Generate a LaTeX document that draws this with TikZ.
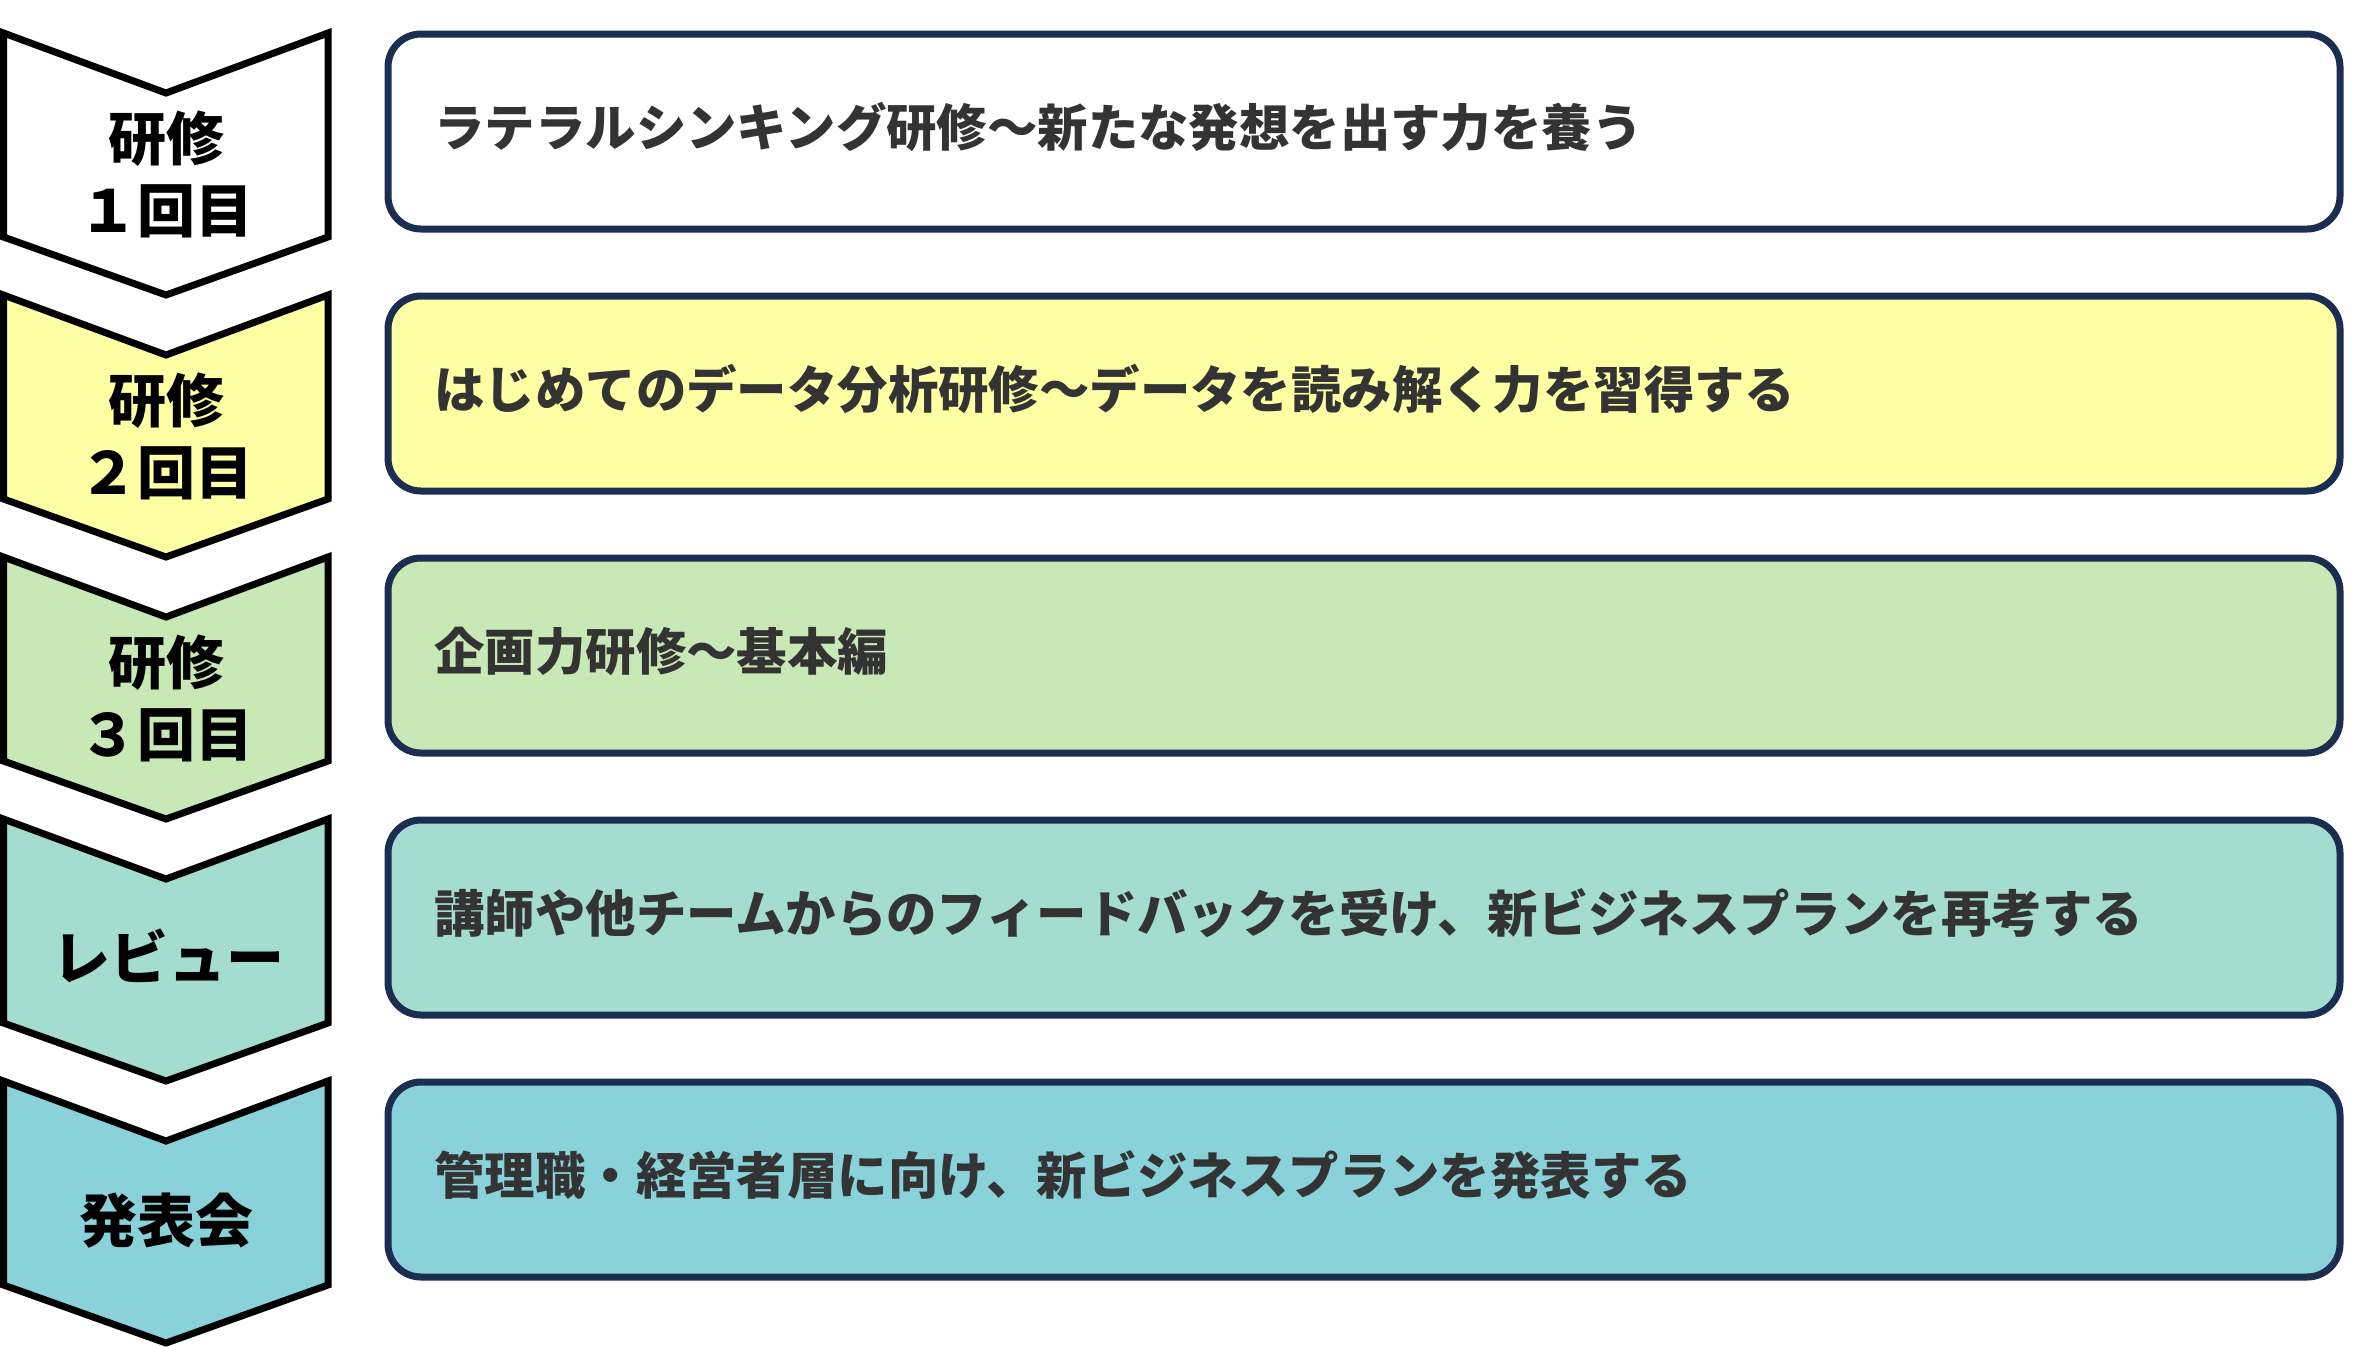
\documentclass[tikz,border=0pt]{standalone}
\usepackage{fontspec}
\newfontfamily\jp{Noto Sans CJK JP}
\definecolor{navy}{HTML}{1B2E52}
\definecolor{txt}{HTML}{333333}
\definecolor{cyel}{HTML}{FFFFA3}
\definecolor{cgrn}{HTML}{C8E9B6}
\definecolor{cteal}{HTML}{A4DCD0}
\definecolor{cblue}{HTML}{89D2DA}
\tikzset{
  chev/.style={draw=black, line width=3.5pt, miter limit=10},
  chevtext/.style={font=\jp\bfseries\fontsize{29pt}{36pt}\selectfont, text=black, align=center, inner sep=0pt},
  box/.style={draw=navy, line width=3.5pt, rounded corners=16.5pt, minimum width=976pt, minimum height=97.5pt, inner sep=0pt},
  boxtext/.style={font=\jp\bfseries\fontsize{25.2pt}{30pt}\selectfont, text=txt, anchor=west, inner sep=0pt}
}
\newcommand{\chevron}[2]{% top y, fill
  \draw[chev, fill=#2] (3.5,#1) -- (166,#1+60) -- (328,#1) -- (328,#1+204) -- (166,#1+262) -- (3.5,#1+204) -- cycle;
}
\begin{document}
\begin{tikzpicture}[x=0.5pt,y=-0.5pt]
\useasboundingbox (0,0) rectangle (2355,1346);
% chevrons
\chevron{33}{white}
\chevron{295}{cyel}
\chevron{557}{cgrn}
\chevron{819}{cteal}
\chevron{1081}{cblue}
\node[chevtext] (t1) at (166,174) {研修\\１回目};
\node[chevtext] (t2) at (166,436) {研修\\２回目};
\node[chevtext] (t3) at (166,698) {研修\\３回目};
\node[chevtext] (t4) at (168,956) {レビュー};
\node[chevtext] (t5) at (166,1221) {発表会};
% boxes
\node[box, fill=white] (b1) at (1364,131.5) {};
\node[box, fill=cyel] (b2) at (1364,393.5) {};
\node[box, fill=cgrn] (b3) at (1364,655.5) {};
\node[box, fill=cteal] (b4) at (1364,917.5) {};
\node[box, fill=cblue] (b5) at (1364,1179.5) {};
\node[boxtext] (l1) at (434,127) {ラテラルシンキング研修～新たな発想を出す力を養う};
\node[boxtext] (l2) at (434,389) {はじめてのデータ分析研修～データを読み解く力を習得する};
\node[boxtext] (l3) at (434,651) {企画力研修～基本編};
\node[boxtext] (l4) at (434,913) {講師や他チームからのフィードバックを受け、新ビジネスプランを再考する};
\node[boxtext] (l5) at (434,1175) {管理職・経営者層に向け、新ビジネスプランを発表する};
\end{tikzpicture}
\end{document}
